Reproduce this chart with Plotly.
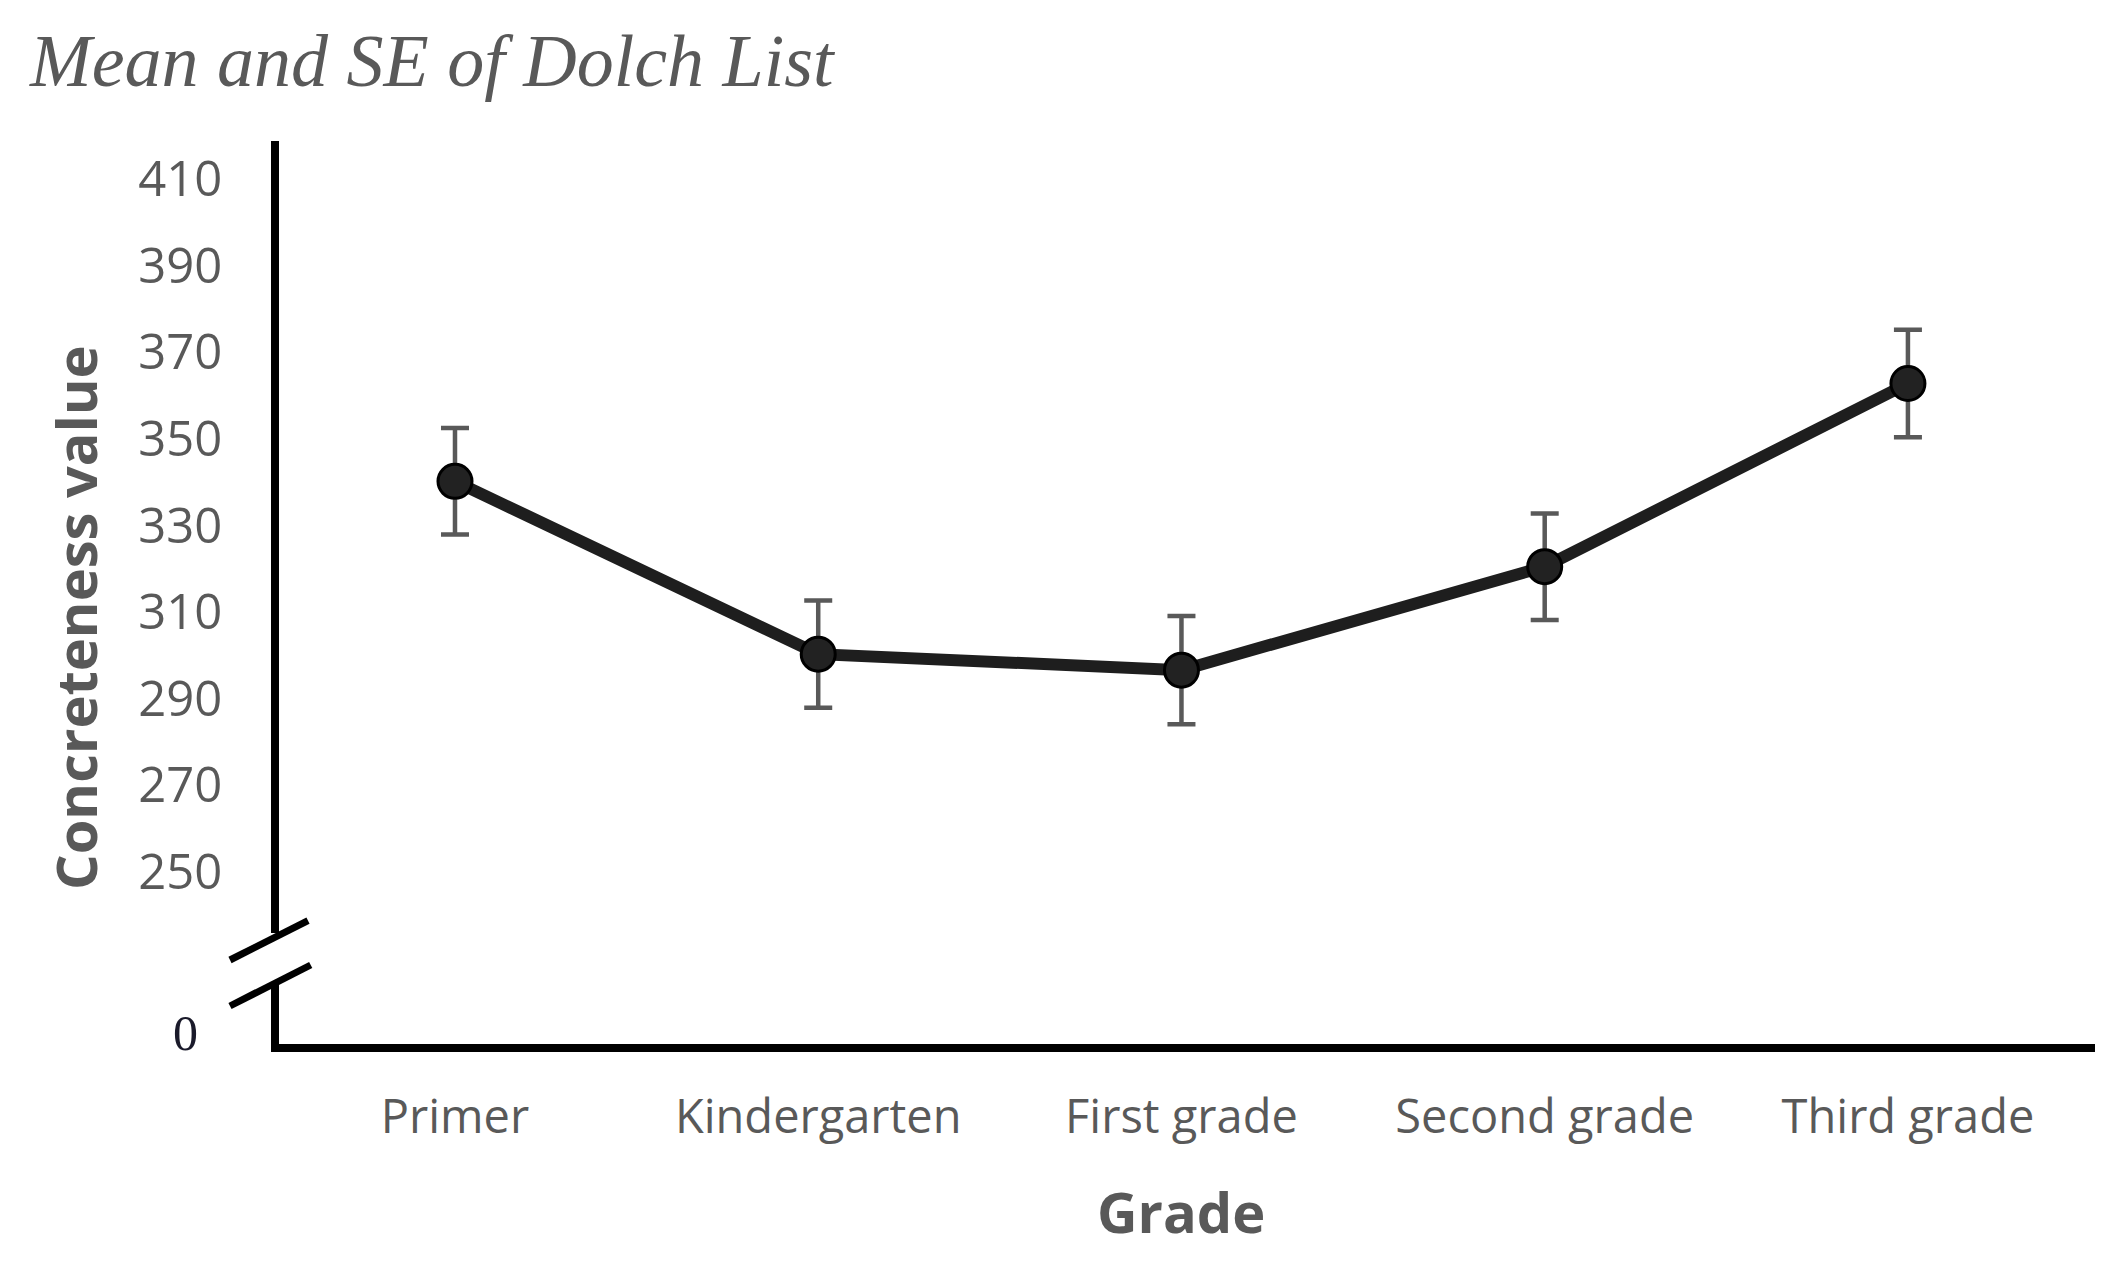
import plotly.graph_objects as go

# ---- data ----
grades = ["Primer", "Kindergarten", "First grade", "Second grade", "Third grade"]
mean_concreteness = [340.2, 300.3, 296.6, 320.5, 362.8]
se_concreteness = [12.3, 12.4, 12.5, 12.3, 12.4]
upper_ticks = [250, 270, 290, 310, 330, 350, 370, 390, 410]
lower_ticks = [0]

# ---- layout geometry (figure pixels; page adds an 8px body margin) ----
W, H = 2110, 1262
OFF = 8
L, T = 271, 133
RIGHT, BOTTOM = 2087, 1036
R, B = W - RIGHT, H - BOTTOM
PW, PH = RIGHT - L, BOTTOM - T


def px(xp):          # page x -> paper
    return (xp - OFF - L) / PW


def py(yp):          # page y -> paper
    return (BOTTOM - (yp - OFF)) / PH


GRAY = "#595959"

fig = go.Figure()
# empty trace so that the lower (x, y) subplot of the broken axis exists
fig.add_trace(go.Scatter(x=[], y=[], xaxis="x", yaxis="y",
                         showlegend=False, hoverinfo="skip"))
fig.add_trace(go.Scatter(
    x=grades, y=mean_concreteness, xaxis="x", yaxis="y2",
    mode="lines+markers",
    line=dict(color="#1e1e1e", width=12),
    marker=dict(size=34, color="#222222", line=dict(color="#000000", width=3)),
    error_y=dict(type="data", array=se_concreteness, visible=True,
                 color=GRAY, thickness=4.5, width=14),
    showlegend=False,
))

fig.update_layout(
    width=W, height=H,
    margin=dict(l=L, r=R, t=T, b=B),
    paper_bgcolor="white", plot_bgcolor="white",
    title=dict(text="<i>Mean and SE of Dolch List</i>",
               font=dict(family="Liberation Serif", size=74, color=GRAY),
               xref="container", x=22 / W, xanchor="left",
               yref="container", y=1 - 52 / H, yanchor="middle"),
    xaxis=dict(type="category", categoryorder="array", categoryarray=grades,
               range=[-0.4845, 4.515], anchor="y",
               showline=True, linecolor="black", linewidth=8,
               showgrid=False, zeroline=False, ticks="",
               tickfont=dict(family="Open Sans", size=47, color=GRAY),
               ticklabelstandoff=25),
    yaxis=dict(domain=[0, py(985)], range=[-2.77, 10.85], anchor="x",
               tickvals=lower_ticks, ticktext=[str(v) for v in lower_ticks],
               showline=True, linecolor="black", linewidth=8,
               showgrid=False, zeroline=False, ticks="",
               tickfont=dict(family="Liberation Serif", size=50, color="#1a1a2a"),
               ticklabelstandoff=63),
    yaxis2=dict(domain=[py(933), 1], range=[235.9, 418.8], anchor="x",
                tickvals=upper_ticks, ticktext=[str(v) for v in upper_ticks],
                showline=True, linecolor="black", linewidth=8,
                showgrid=False, zeroline=False, ticks="",
                tickfont=dict(family="Open Sans", size=49, color=GRAY),
                ticklabelstandoff=39),
)

# axis titles
fig.add_annotation(text="<b>Concreteness value</b>", textangle=-90,
                   xref="paper", yref="paper", x=px(75), y=py(618),
                   xanchor="center", yanchor="middle", showarrow=False,
                   font=dict(family="Open Sans", size=56, color=GRAY))
fig.add_annotation(text="<b>Grade</b>",
                   xref="paper", yref="paper", x=px(1181), y=py(1211),
                   xanchor="center", yanchor="middle", showarrow=False,
                   font=dict(family="Open Sans", size=56, color=GRAY))

# axis break marks
for (x0, y0, x1, y1) in [(230, 960, 308, 920.7), (230, 1006, 310.7, 965)]:
    fig.add_shape(type="line", xref="paper", yref="paper",
                  x0=px(x0), y0=py(y0), x1=px(x1), y1=py(y1),
                  line=dict(color="black", width=7))

fig.write_html("out.html")
